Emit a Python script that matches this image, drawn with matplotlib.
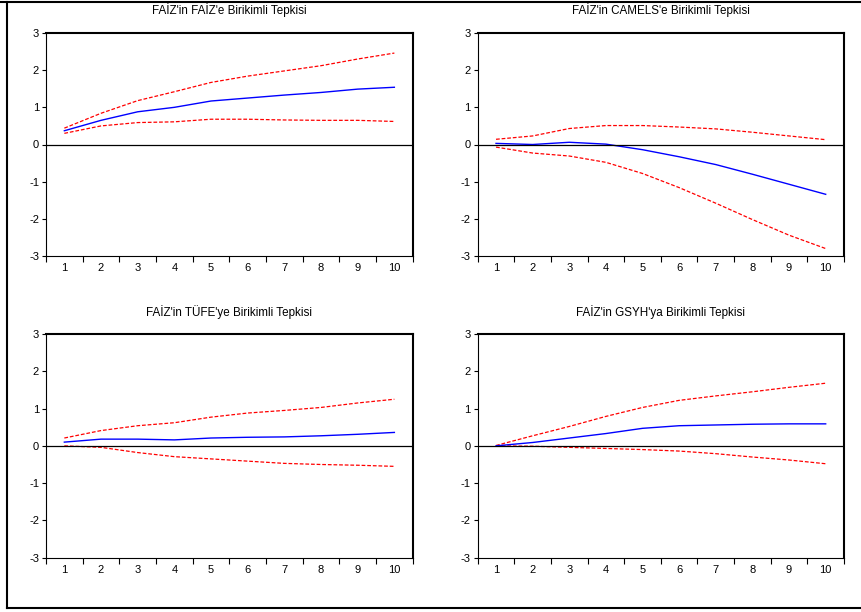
import matplotlib
matplotlib.use("Agg")
import matplotlib.pyplot as plt
from matplotlib.lines import Line2D
import numpy as np

plt.rcParams['font.family'] = ['Liberation Sans', 'DejaVu Sans']

periods = [1, 2, 3, 4, 5, 6, 7, 8, 9, 10]

titles = [
    "FAİZ'in FAİZ'e Birikimli Tepkisi",
    "FAİZ'in CAMELS'e Birikimli Tepkisi",
    "FAİZ'in TÜFE'ye Birikimli Tepkisi",
    "FAİZ'in GSYH'ya Birikimli Tepkisi",
]

faiz_resp = [0.37, 0.65, 0.88, 1.00, 1.17, 1.25, 1.33, 1.40, 1.49, 1.54]
faiz_up = [0.44, 0.84, 1.18, 1.42, 1.67, 1.84, 1.98, 2.12, 2.30, 2.46]
faiz_lo = [0.30, 0.50, 0.59, 0.61, 0.68, 0.68, 0.66, 0.65, 0.65, 0.62]

camels_resp = [0.03, 0.00, 0.06, 0.01, -0.14, -0.33, -0.54, -0.80, -1.07, -1.34]
camels_up = [0.14, 0.23, 0.43, 0.51, 0.51, 0.47, 0.42, 0.33, 0.23, 0.13]
camels_lo = [-0.07, -0.23, -0.31, -0.48, -0.78, -1.16, -1.58, -2.02, -2.44, -2.80]

tufe_resp = [0.10, 0.18, 0.18, 0.16, 0.21, 0.23, 0.24, 0.27, 0.31, 0.36]
tufe_up = [0.21, 0.41, 0.54, 0.62, 0.77, 0.88, 0.95, 1.03, 1.15, 1.25]
tufe_lo = [0.00, -0.04, -0.18, -0.29, -0.35, -0.41, -0.47, -0.50, -0.52, -0.55]

gsyh_resp = [0.00, 0.09, 0.21, 0.33, 0.47, 0.54, 0.56, 0.58, 0.59, 0.59]
gsyh_up = [0.01, 0.27, 0.52, 0.79, 1.03, 1.22, 1.34, 1.45, 1.57, 1.68]
gsyh_lo = [0.00, -0.01, -0.04, -0.07, -0.10, -0.14, -0.21, -0.30, -0.38, -0.48]

series = [
    (faiz_resp, faiz_up, faiz_lo),
    (camels_resp, camels_up, camels_lo),
    (tufe_resp, tufe_up, tufe_lo),
    (gsyh_resp, gsyh_up, gsyh_lo),
]

W, H = 861, 612
fig = plt.figure(figsize=(W / 100, H / 100), dpi=100)

# axes boxes in pixel coords: (left, top, right, bottom)
boxes = [
    (46, 33, 412.7, 256),
    (477.7, 33, 844, 256),
    (46, 334, 412.7, 557.7),
    (477.7, 334, 844, 557.7),
]
title_y = [10, 10, 312, 312]

for (l, t, r, b), ty, title, (resp, up, lo) in zip(boxes, title_y, titles, series):
    ax = fig.add_axes([l / W, 1 - b / H, (r - l) / W, (b - t) / H])
    ax.plot(periods, up, color='#ff0000', linestyle=(0, (3, 1.5)), linewidth=0.9)
    ax.plot(periods, lo, color='#ff0000', linestyle=(0, (3, 1.5)), linewidth=0.9)
    ax.plot(periods, resp, color='#0000ff', linewidth=1.0)
    ax.axhline(0, color='black', linewidth=0.9)
    ax.set_xlim(0.5, 10.5)
    ax.set_ylim(-3, 3)
    ax.set_yticks([-3, -2, -1, 0, 1, 2, 3])
    ax.set_yticklabels(['-3', '-2', '-1', '0', '1', '2', '3'])
    ax.set_xticks(np.arange(0.5, 11, 1.0))
    ax.set_xticklabels([])
    ax.set_xticks(periods, minor=True)
    ax.set_xticklabels([str(p) for p in periods], minor=True)
    ax.tick_params(axis='x', which='major', direction='out', length=4, width=0.8, color='black')
    ax.tick_params(axis='x', which='minor', length=0, labelsize=8, pad=5)
    ax.tick_params(axis='y', direction='out', length=3, width=0.8, labelsize=8, pad=2)
    for s in ['left', 'bottom']:
        ax.spines[s].set_linewidth(0.8)
    for s in ['top', 'right']:
        ax.spines[s].set_linewidth(1.5)
    fig.text((l + r) / 2 / W, 1 - ty / H, title, fontsize=8.4,
             ha='center', va='center')

# outer frame lines
fig.add_artist(Line2D([0, 1], [1 - 1.5 / H, 1 - 1.5 / H], color='black', linewidth=1.5, transform=fig.transFigure))
fig.add_artist(Line2D([6.5 / W, 6.5 / W], [1 - 1.5 / H, 1 - 608 / H], color='black', linewidth=1.5, transform=fig.transFigure))
fig.add_artist(Line2D([6.5 / W, 1], [1 - 608 / H, 1 - 608 / H], color='black', linewidth=1.5, transform=fig.transFigure))

fig.savefig('out.png', dpi=100)
